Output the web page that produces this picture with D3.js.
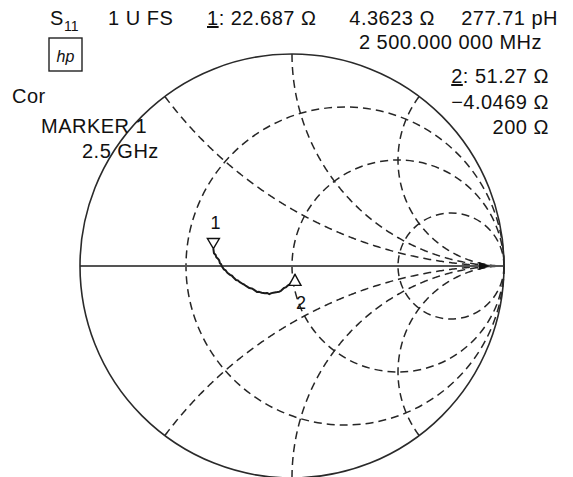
<!DOCTYPE html>
<html>
<head>
<meta charset="utf-8">
<script src="https://cdn.jsdelivr.net/npm/d3@7"></script>
<style>
  html, body { margin: 0; padding: 0; background: #fff; }
  svg { display: block; }
  text { font-family: "Liberation Sans", Arial, Helvetica, sans-serif; fill: #111; }
</style>
</head>
<body>
<svg id="chart" width="573" height="477"></svg>
<script>
// Smith chart grid values (normalised to Z0)
const resistanceCircles = [1 / 3, 1, 3];
const reactanceArcs = [0.5, 1, 2, -0.5, -1, -2];
const z0 = 50;

// Marker readouts (ohms)
const markerIds = ["1", "2"];
const markerR = [22.687, 51.27];
const markerX = [4.3623, -4.0469];

// Measured S11 trace, reflection coefficient (real, imaginary)
const traceRe = [-0.371, -0.368, -0.360, -0.357, -0.348, -0.344, -0.340, -0.334, -0.332, -0.321,
                 -0.313, -0.305, -0.292, -0.283, -0.277, -0.264, -0.255, -0.248, -0.232, -0.226,
                 -0.217, -0.201, -0.190, -0.182, -0.164, -0.155, -0.143, -0.127, -0.118, -0.107,
                 -0.097, -0.088, -0.069, -0.060, -0.052, -0.038, -0.030, -0.022, -0.009, -0.001,
                  0.009, 0.012, 0.014];
const traceIm = [ 0.082,  0.060,  0.052,  0.041,  0.033,  0.028,  0.013,  0.008,  0.000, -0.016,
                 -0.021, -0.032, -0.042, -0.046, -0.053, -0.066, -0.068, -0.075, -0.085, -0.087,
                 -0.094, -0.104, -0.106, -0.110, -0.123, -0.122, -0.126, -0.129, -0.127, -0.133,
                 -0.128, -0.126, -0.123, -0.121, -0.117, -0.104, -0.101, -0.094, -0.085, -0.074,
                 -0.063, -0.052, -0.039];

// Header readout lines
const headerLeft = ["Cor", "MARKER 1", "2.5 GHz"];
const freqLabel = "2 500.000 000 MHz";
const m1Values = ["22.687 Ω", "4.3623 Ω", "277.71 pH"];
const m2Values = ["51.27 Ω", "−4.0469 Ω", "200 Ω"];

const svg = d3.select("#chart");
const cx = 292, cy = 266, R = 212;
const x = d3.scaleLinear().domain([-1, 1]).range([cx - R, cx + R]);
const y = d3.scaleLinear().domain([-1, 1]).range([cy + R, cy - R]);

// normalised impedance -> reflection coefficient
function gamma(r, xv) {
  const den = (r + 1) * (r + 1) + xv * xv;
  return [(r * r + xv * xv - 1) / den, 2 * xv / den];
}

const gridColor = "#262626";
const dash = "8,5";

// constant-resistance circles
svg.append("g").selectAll("circle")
  .data(resistanceCircles)
  .join("circle")
  .attr("cx", d => x(d / (d + 1)))
  .attr("cy", y(0))
  .attr("r", d => x(1 / (d + 1)) - x(0))
  .attr("fill", "none")
  .attr("stroke", gridColor)
  .attr("stroke-width", 1.5)
  .attr("stroke-dasharray", dash);

// constant-reactance arcs, drawn from the rim towards the open-circuit point
const line = d3.line().x(d => x(d[0])).y(d => y(d[1]));
const arcPts = xv => {
  const pts = [];
  for (let i = 0; i < 400; i++) {
    const th = (i / 400) * (Math.PI / 2);
    pts.push(gamma(Math.tan(th), xv));
  }
  pts.push([1, 0]);
  return pts;
};
svg.append("g").selectAll("path")
  .data(reactanceArcs)
  .join("path")
  .attr("d", d => line(arcPts(d)))
  .attr("fill", "none")
  .attr("stroke", gridColor)
  .attr("stroke-width", 1.5)
  .attr("stroke-dasharray", dash);

// real axis
svg.append("line")
  .attr("x1", x(-1)).attr("x2", x(1))
  .attr("y1", y(0)).attr("y2", y(0))
  .attr("stroke", "#555").attr("stroke-width", 2);

// outer unit circle
svg.append("circle")
  .attr("cx", x(0)).attr("cy", y(0)).attr("r", x(1) - x(0))
  .attr("fill", "none").attr("stroke", "#2a2a2a").attr("stroke-width", 1.6);

// reference position arrow
const refRe = 0.934;
svg.append("path")
  .attr("d", `M${x(refRe)},${y(0)} L${x(refRe) - 11},${y(0) - 4} L${x(refRe) - 11},${y(0) + 4} Z`)
  .attr("fill", "#111");

// trace
const trace = traceRe.map((v, i) => [v, traceIm[i]]);
svg.append("path")
  .attr("d", line(trace))
  .attr("fill", "none")
  .attr("stroke", "#1a1a1a")
  .attr("stroke-width", 2)
  .attr("stroke-linejoin", "round");

// markers
const markers = markerIds.map((id, i) => {
  const g = gamma(markerR[i] / z0, markerX[i] / z0);
  return { id, px: x(g[0]), py: y(g[1]), up: i === 1 };
});
svg.append("g").selectAll("path")
  .data(markers)
  .join("path")
  .attr("d", d => d.up
    ? `M${d.px},${d.py} L${d.px + 6},${d.py + 11} L${d.px - 6},${d.py + 11} Z`
    : `M${d.px},${d.py} L${d.px + 6},${d.py - 10} L${d.px - 6},${d.py - 10} Z`)
  .attr("fill", "#fff")
  .attr("stroke", "#111")
  .attr("stroke-width", 1.4);
svg.append("g").selectAll("text")
  .data(markers)
  .join("text")
  .attr("x", d => d.up ? d.px + 6 : d.px + 2)
  .attr("y", d => d.up ? d.py + 35 : d.py - 20)
  .attr("text-anchor", "middle")
  .attr("font-size", 18)
  .text(d => d.id);

// readout text
const T = (tx, ty, str, size, anchor) => svg.append("text")
  .attr("x", tx).attr("y", ty)
  .attr("font-size", size || 20)
  .attr("letter-spacing", 0.5)
  .attr("text-anchor", anchor || "start")
  .text(str);

const s = T(50, 25, "S");
svg.append("text").attr("x", 64).attr("y", 31).attr("font-size", 14).text("11");
T(108, 25, "1 U FS");

const m1 = svg.append("text").attr("x", 207).attr("y", 25).attr("font-size", 20).attr("letter-spacing", 0.5);
m1.append("tspan").attr("text-decoration", "underline").text(markerIds[0]);
m1.append("tspan").text(": " + m1Values[0]);
T(435, 25, m1Values[1], 20, "end");
T(558, 25, m1Values[2], 20, "end");
T(542, 49, freqLabel, 20, "end");

const m2 = svg.append("text").attr("x", 549).attr("y", 83).attr("font-size", 20)
  .attr("letter-spacing", 0.5).attr("text-anchor", "end");
m2.append("tspan").attr("text-decoration", "underline").text(markerIds[1]);
m2.append("tspan").text(": " + m2Values[0]);
T(549, 109, m2Values[1], 20, "end");
T(549, 134, m2Values[2], 20, "end");

// instrument badge
svg.append("rect").attr("x", 49).attr("y", 38).attr("width", 33).attr("height", 33)
  .attr("fill", "#fff").attr("stroke", "#222").attr("stroke-width", 1.4);
svg.append("text").attr("x", 65.5).attr("y", 62).attr("font-size", 16)
  .attr("font-style", "italic").attr("text-anchor", "middle").text("hp");

T(12, 103, headerLeft[0]);
T(41, 133, headerLeft[1]);
T(82, 158, headerLeft[2]);
</script>
</body>
</html>
